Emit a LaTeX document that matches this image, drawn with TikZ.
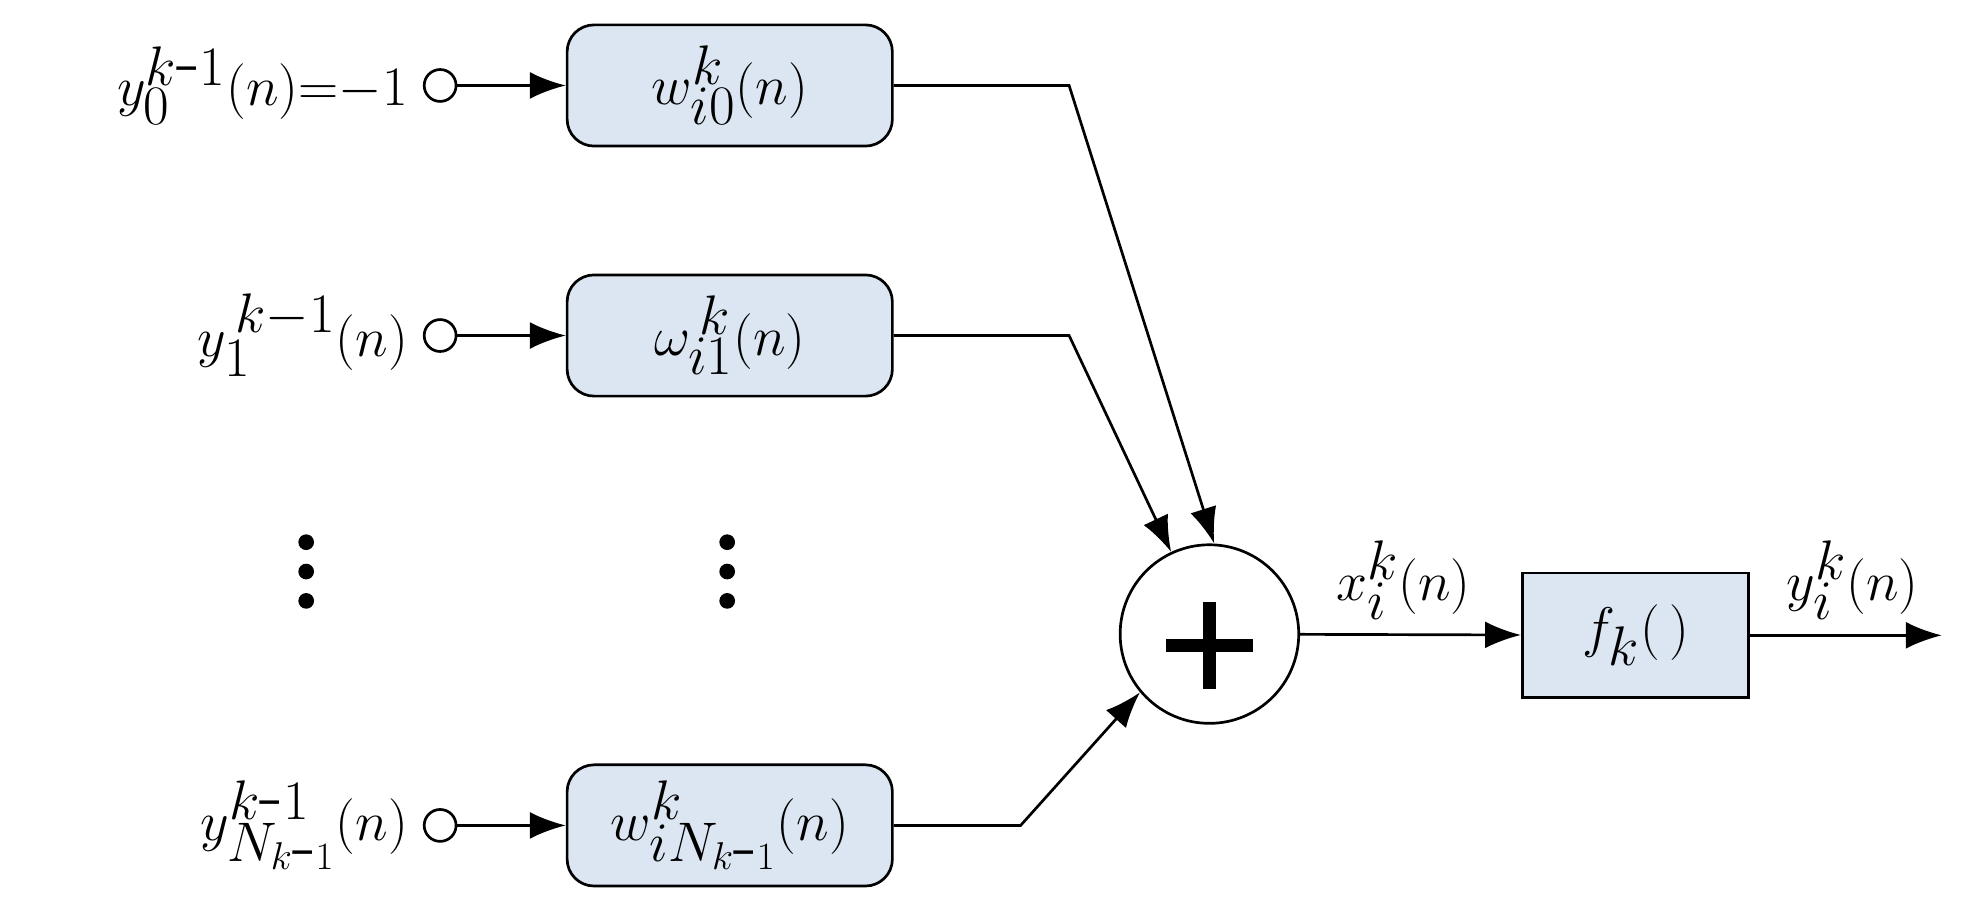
\documentclass[tikz,border=0pt]{standalone}
\usetikzlibrary{arrows.meta}
\definecolor{bfill}{HTML}{DCE6F2}
\begin{document}
\begin{tikzpicture}[x=0.02cm,y=-0.02cm,
  blk/.style={draw,line width=1.2pt,fill=bfill,rounded corners=12pt,minimum width=5.1cm,minimum height=1.9cm,inner sep=0pt},
  sq/.style={draw,line width=1.2pt,fill=bfill,minimum width=3.55cm,minimum height=1.95cm,inner sep=0pt},
  port/.style={draw,line width=1.2pt,circle,fill=white,minimum size=0.5cm,inner sep=0pt},
  wire/.style={line width=1.2pt},
  arr/.style={wire,-{Latex[length=16pt,width=12pt]}},
  lbl/.style={font=\fontsize{35}{40}\selectfont,inner sep=0pt},
  dot/.style={circle,fill,inner sep=0pt,minimum size=7pt}]
\useasboundingbox (0,0) rectangle (1552,709);
\node[port] (p0) at (345,67) {};
\node[port] (p1) at (345,263) {};
\node[port] (p2) at (345,647) {};
\node[blk] (w0) at (572,67) {};
\node[lbl] at (w0) {$w_{i0}^{k}(n)$};
\node[blk] (w1) at (572,263) {};
\node[lbl] at (w1) {$\omega_{i1}^{\,k}(n)$};
\node[blk] (w2) at (572,647) {};
\node[lbl] at (w2) {$w_{iN_{k\mbox{-}1}}^{k}(n)$};
\node[lbl,anchor=east] (l0) at (320,67) {$y_0^{k\mbox{-}1}(n){=}{-1}$};
\node[lbl,anchor=east] (l1) at (320,263) {$y_1^{\,k-1}(n)$};
\node[lbl,anchor=east] (l2) at (320,647) {$y_{N_{k\mbox{-}1}}^{k\mbox{-}1}(n)$};
\node[draw,line width=1.2pt,circle,minimum size=2.8cm,inner sep=0pt,fill=white] (s) at (948,497) {};
\draw[line width=6pt] (948,472) -- (948,540) (914,506) -- (982,506);
\node[sq] (f) at (1282,498) {};
\node[lbl] at (f) {$f_k(\,)$};
\coordinate (out) at (1522,498);
\coordinate (c0) at (838,67);
\coordinate (c1) at (838,263);
\coordinate (c2) at (800,647);
\foreach \i in {0,1,2}{\draw[arr] (p\i) -- (w\i);}
\draw[arr] (w0.east) -- (c0) -- (s.87);
\draw[arr] (w1.east) -- (c1) -- (s.115);
\draw[arr] (w2.east) -- (c2) -- (s.220);
\draw[arr] (s) -- (f);
\draw[arr] (f) -- (out);
\node[lbl] at (1100,455) {$x_i^k(n)$};
\node[lbl] at (1452,455) {$y_i^k(n)$};
\foreach \x in {240,570}{\foreach \y in {425,448,471}{\node[dot] at (\x,\y) {};}}
\end{tikzpicture}
\end{document}
